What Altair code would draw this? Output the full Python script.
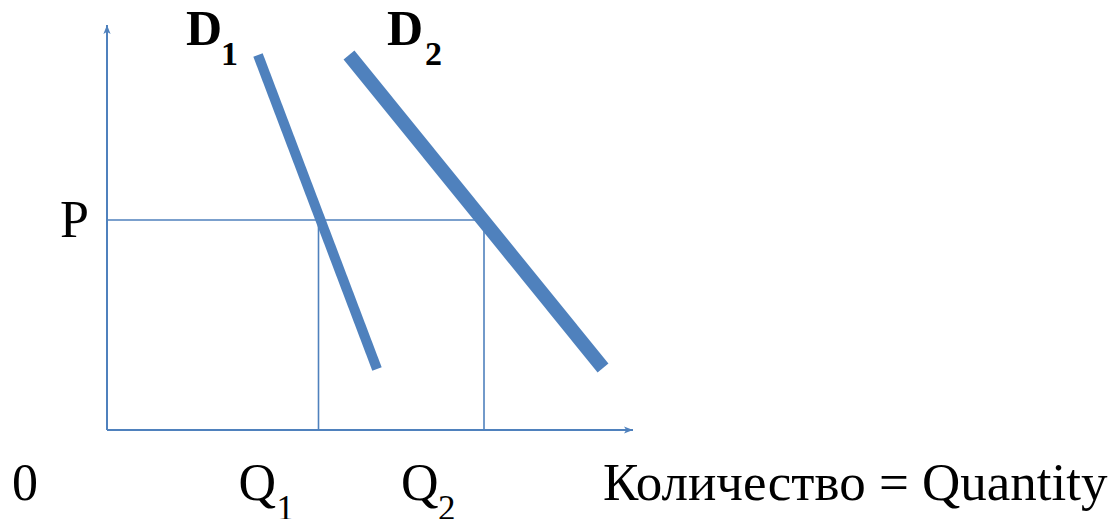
import altair as alt
import pandas as pd

# ---- values (economic units) ----
P = 4.20          # price level
Q1 = 4.23         # quantity at D1
Q2 = 7.54         # quantity at D2
X_END = 10.52     # end of quantity axis
Y_END = 8.10      # end of price axis

d1_q = [3.02, 5.40]
d1_p = [7.50, 1.22]
d2_q = [4.84, 9.92]
d2_p = [7.50, 1.24]

labels_main = ["P", "0", "Q", "Q", "D", "D", "Количество = Quantity"]
labels_sub = ["1", "2", "1", "2"]

# ---- layout ----
W, H = 1101, 511
PX = 50.0
OX, OY = 99, 422
BLUE = "#4F81BD"
FONT = "Liberation Serif"

xs = alt.Scale(domain=[-OX / PX, (W - OX) / PX], nice=False, zero=False)
ys = alt.Scale(domain=[-(H - OY) / PX, OY / PX], nice=False, zero=False)


def X(f="x"):
    return alt.X(f, type="quantitative", scale=xs, axis=None)


def Y(f="y"):
    return alt.Y(f, type="quantitative", scale=ys, axis=None)


axes_df = pd.DataFrame({"x": [0, 0], "y": [0, 0], "x2": [X_END, 0], "y2": [0, Y_END]})
guides_df = pd.DataFrame({
    "x": [0, Q1, Q2], "y": [P, 0, 0],
    "x2": [Q2, Q1, Q2], "y2": [P, P, P],
})

axes = alt.Chart(axes_df).mark_rule(color=BLUE, strokeWidth=2).encode(
    x=X(), y=Y(), x2="x2", y2="y2")
guides = alt.Chart(guides_df).mark_rule(color=BLUE, strokeWidth=1.6).encode(
    x=X(), y=Y(), x2="x2", y2="y2")

arrow_r = alt.Chart(pd.DataFrame({"x": [X_END], "y": [0]})).mark_point(
    shape="M 0 0 L -2 -0.8 L -1.5 0 L -2 0.8 Z", size=81, filled=True,
    color=BLUE, opacity=1, strokeWidth=0).encode(x=X(), y=Y())
arrow_u = alt.Chart(pd.DataFrame({"x": [0], "y": [Y_END]})).mark_point(
    shape="M 0 0 L -0.8 2 L 0 1.5 L 0.8 2 Z", size=81, filled=True,
    color=BLUE, opacity=1, strokeWidth=0).encode(x=X(), y=Y())

d1 = alt.Chart(pd.DataFrame({"x": d1_q, "y": d1_p, "o": [0, 1]})).mark_line(
    color=BLUE, strokeWidth=10, strokeCap="butt").encode(x=X(), y=Y(), order="o")
d2 = alt.Chart(pd.DataFrame({"x": d2_q, "y": d2_p, "o": [0, 1]})).mark_line(
    color=BLUE, strokeWidth=14, strokeCap="butt").encode(x=X(), y=Y(), order="o")


def label(x, y, text, dx, dy, size=52, weight="normal"):
    return alt.Chart(pd.DataFrame({"x": [x], "y": [y], "t": [text]})).mark_text(
        align="left", baseline="alphabetic", dx=dx, dy=dy, font=FONT,
        fontSize=size, fontWeight=weight, color="black").encode(
        x=X(), y=Y(), text="t:N")


texts = [
    label(0, P, labels_main[0], -47, 17),
    label(0, 0, labels_main[1], -95, 70),
    label(Q1, 0, labels_main[2], -80, 70),
    label(Q1, 0, labels_sub[0], -42, 90, size=35),
    label(Q2, 0, labels_main[3], -83, 70),
    label(Q2, 0, labels_sub[1], -46, 90, size=35),
    label(d1_q[0], d1_p[0], labels_main[4], -72, -10, size=50, weight="bold"),
    label(d1_q[0], d1_p[0], labels_sub[2], -37, 10, size=34, weight="bold"),
    label(d2_q[0], d2_p[0], labels_main[5], 38, -10, size=50, weight="bold"),
    label(d2_q[0], d2_p[0], labels_sub[3], 76, 10, size=34, weight="bold"),
    label(X_END, 0, labels_main[6], -30, 70, size=53),
]

chart = alt.layer(guides, axes, arrow_r, arrow_u, d1, d2, *texts).properties(
    width=W, height=H, padding=0, autosize="none", background="#ffffff"
).configure_view(stroke=None)

chart.save("out.html", embed_options={"renderer": "svg", "actions": False})
